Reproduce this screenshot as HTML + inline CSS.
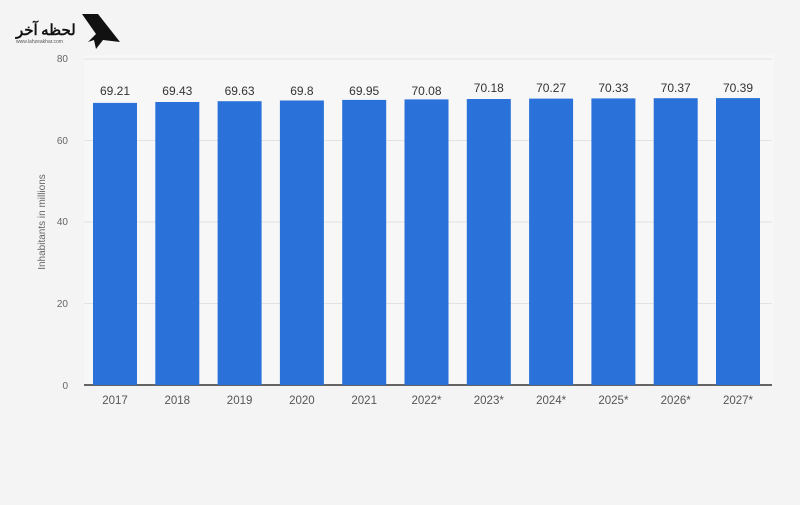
<!DOCTYPE html>
<html><head><style>
body{margin:0;width:800px;height:500px;background:#f4f4f4;overflow:hidden;font-family:"Liberation Sans",sans-serif}
</style></head><body>
<svg width="800" height="500" xmlns="http://www.w3.org/2000/svg" font-family="Liberation Sans, sans-serif">
<rect width="800" height="500" fill="#f4f4f4"/>
<rect x="84" y="55" width="690" height="330" fill="#f7f7f8"/>
<g stroke="#e2e2e2" stroke-width="1">
<line x1="84" y1="59" x2="772" y2="59"/>
<line x1="84" y1="140.5" x2="772" y2="140.5"/>
<line x1="84" y1="222" x2="772" y2="222"/>
<line x1="84" y1="303.5" x2="772" y2="303.5"/>
</g>
<g font-size="10" fill="#666" text-anchor="end">
<text x="68" y="62">80</text><text x="68" y="144">60</text><text x="68" y="225">40</text><text x="68" y="307">20</text><text x="68" y="389">0</text>
</g>
<text transform="translate(45,222) rotate(-90)" font-size="10" fill="#666" text-anchor="middle">Inhabitants in millions</text>
<g id="bars" fill="#2a72d9"></g>
<line x1="84" y1="385" x2="772" y2="385" stroke="#333" stroke-width="1.5"/>
<g font-size="12" fill="#333" text-anchor="middle">
<rect x="93" y="102.9" width="44" height="282.1" fill="#2a72d9"/><text x="115" y="95">69.21</text><text x="115" y="404" fill="#555" font-size="11.5">2017</text>
<rect x="155.3" y="102" width="44" height="283" fill="#2a72d9"/><text x="177.3" y="95">69.43</text><text x="177.3" y="404" fill="#555" font-size="11.5">2018</text>
<rect x="217.6" y="101.2" width="44" height="283.8" fill="#2a72d9"/><text x="239.6" y="95">69.63</text><text x="239.6" y="404" fill="#555" font-size="11.5">2019</text>
<rect x="279.9" y="100.5" width="44" height="284.5" fill="#2a72d9"/><text x="301.9" y="95">69.8</text><text x="301.9" y="404" fill="#555" font-size="11.5">2020</text>
<rect x="342.2" y="99.9" width="44" height="285.1" fill="#2a72d9"/><text x="364.2" y="95">69.95</text><text x="364.2" y="404" fill="#555" font-size="11.5">2021</text>
<rect x="404.5" y="99.4" width="44" height="285.6" fill="#2a72d9"/><text x="426.5" y="95">70.08</text><text x="426.5" y="404" fill="#555" font-size="11.5">2022*</text>
<rect x="466.8" y="99" width="44" height="286" fill="#2a72d9"/><text x="488.8" y="92">70.18</text><text x="488.8" y="404" fill="#555" font-size="11.5">2023*</text>
<rect x="529.1" y="98.6" width="44" height="286.4" fill="#2a72d9"/><text x="551.1" y="92">70.27</text><text x="551.1" y="404" fill="#555" font-size="11.5">2024*</text>
<rect x="591.4" y="98.4" width="44" height="286.6" fill="#2a72d9"/><text x="613.4" y="92">70.33</text><text x="613.4" y="404" fill="#555" font-size="11.5">2025*</text>
<rect x="653.7" y="98.2" width="44" height="286.8" fill="#2a72d9"/><text x="675.7" y="92">70.37</text><text x="675.7" y="404" fill="#555" font-size="11.5">2026*</text>
<rect x="716" y="98.1" width="44" height="286.9" fill="#2a72d9"/><text x="738" y="92">70.39</text><text x="738" y="404" fill="#555" font-size="11.5">2027*</text>
</g>
<text x="16" y="35" font-family="Noto Sans CJK SC, sans-serif" font-size="15" font-weight="bold" fill="#111">لحظه آخر</text>
<text x="16" y="43" font-size="5" fill="#555">www.lahzeakhar.com</text>
<path d="M82 14 L98 14 L120 42 L103 40 L96 49 L94 40 L88 42 L96 34 Z" fill="#111"/>
</svg>
</body></html>
